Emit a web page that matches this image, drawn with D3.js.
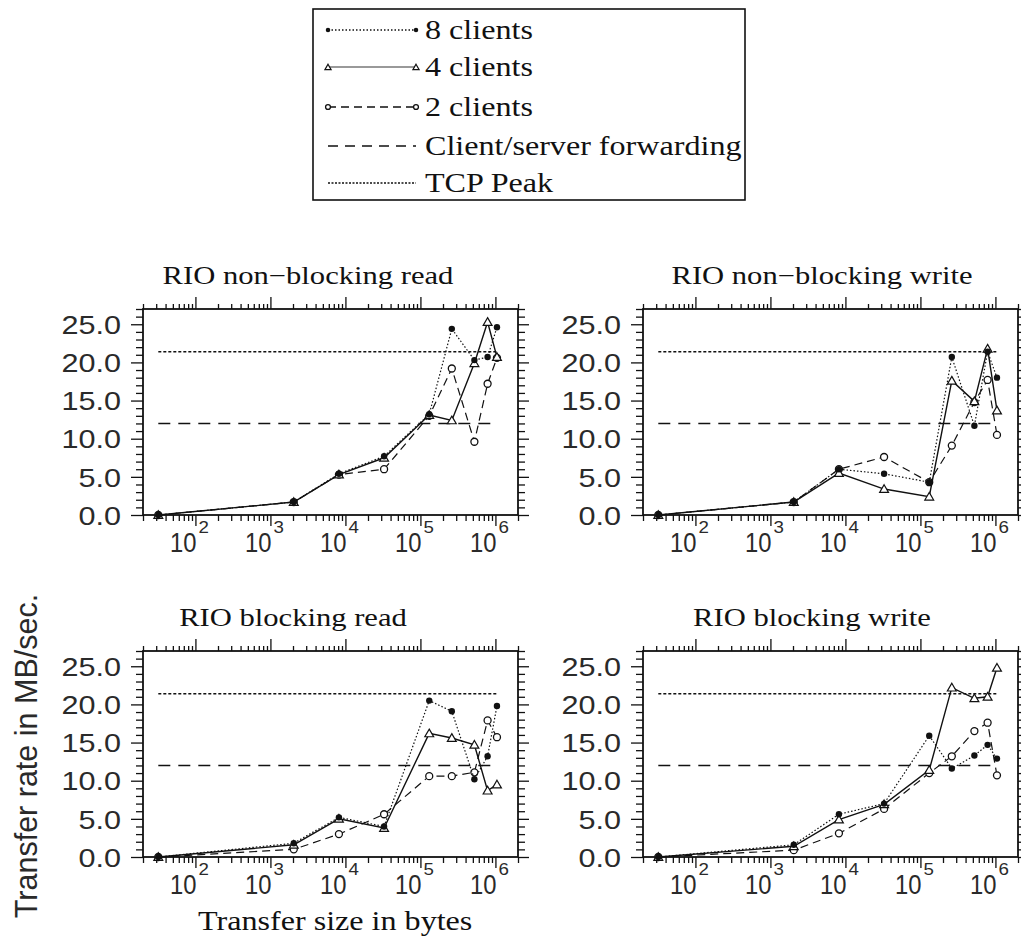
<!DOCTYPE html>
<html>
<head>
<meta charset="utf-8">
<script src="https://cdn.jsdelivr.net/npm/d3@7"></script>
<style>
  body { margin: 0; background: #fff; }
  svg { display: block; }
</style>
</head>
<body>
<svg id="chart"></svg>
<script>
// transfer sizes in bytes (x axis, log)
var sizes = [32, 2048, 8192, 32768, 131072, 262144, 524288, 786432, 1048576];

var titles = ["RIO non\u2212blocking read", "RIO non\u2212blocking write",
              "RIO blocking read", "RIO blocking write"];

// MB/sec, one array per panel and client count
var nbRead8  = [0, 1.7, 5.4, 7.7, 13.2, 24.4, 20.3, 20.7, 24.6];
var nbRead4  = [0, 1.7, 5.3, 7.5, 13.1, 12.4, 19.9, 25.3, 20.7];
var nbRead2  = [0, 1.7, 5.3, 6.0, 13.0, 19.2, 9.6, 17.2, 20.6];

var nbWrite8 = [0, 1.7, 6.0, 5.4, 4.3, 20.7, 11.7, 21.4, 18.0];
var nbWrite4 = [0, 1.7, 5.5, 3.4, 2.4, 17.6, 14.9, 21.8, 13.7];
var nbWrite2 = [0, 1.7, 6.0, 7.6, 4.3, 9.1, 14.8, 17.7, 10.5];

var bRead8   = [0, 1.8, 5.2, 4.0, 20.5, 19.1, 10.2, 13.2, 19.8];
var bRead4   = [0, 1.6, 5.0, 3.8, 16.2, 15.6, 14.7, 8.7, 9.5];
var bRead2   = [0, 1.0, 3.0, 5.6, 10.6, 10.6, 11.1, 17.9, 15.7];

var bWrite8  = [0, 1.6, 5.6, 7.0, 15.9, 11.6, 13.3, 14.7, 12.9];
var bWrite4  = [0, 1.4, 4.9, 6.9, 11.4, 22.2, 20.8, 21.0, 24.8];
var bWrite2  = [0, 0.9, 3.1, 6.3, 11.0, 13.2, 16.5, 17.6, 10.7];

var tcpPeak = 21.4;     // TCP Peak
var csForward = 12.0;   // Client/server forwarding

var legendLabels = ["8 clients", "4 clients", "2 clients", "Client/server forwarding", "TCP Peak"];
var yTicks = [0, 5, 10, 15, 20, 25];
var xTicks = [1e2, 1e3, 1e4, 1e5, 1e6];

var W = 1021, H = 941;
var svg = d3.select("#chart").attr("width", W).attr("height", H);

var serif = "'Liberation Serif', 'Times New Roman', serif";
var sans = "'Liberation Sans', Arial, sans-serif";
var ink = "#111";

var pw = 375, ph = 206;
var panels = [
  { title: titles[0], s8: nbRead8,  s4: nbRead4,  s2: nbRead2,  left: 143, top: 309, tx: 308 },
  { title: titles[1], s8: nbWrite8, s4: nbWrite4, s2: nbWrite2, left: 643, top: 309, tx: 822 },
  { title: titles[2], s8: bRead8,   s4: bRead4,   s2: bRead2,   left: 143, top: 651, tx: 293 },
  { title: titles[3], s8: bWrite8,  s4: bWrite4,  s2: bWrite2,  left: 643, top: 651, tx: 812 }
];

// text helper with horizontal stretch (scanned original is wider than tall)
function label(parent, x, y, str, opts) {
  opts = opts || {};
  var t = parent.append("text")
    .attr("transform", "translate(" + x + "," + y + ") scale(" + (opts.sx || 1) + ",1)" + (opts.rot ? " rotate(" + opts.rot + ")" : ""))
    .attr("font-family", opts.font || serif)
    .attr("font-size", opts.size || 25)
    .attr("fill", opts.fill || ink)
    .attr("text-anchor", opts.anchor || "start")
    .text(str);
  if (opts.dy) t.attr("dy", opts.dy);
  return t;
}

var x = d3.scaleLog().domain([20, 2e6]).range([0, pw]);
var y = d3.scaleLinear().domain([0, 27]).range([ph, 0]);

var xMinor = [];
for (var k = 1; k <= 6; k++) {
  for (var m = 2; m <= 9; m++) {
    var v = m * Math.pow(10, k);
    if (v >= 20 && v <= 2e6) xMinor.push(v);
  }
}
var yMinor = d3.range(0, 28).filter(function (d) { return d % 5 !== 0; });

var styles = {
  s8: { dash: "1.5,2", width: 1.2 },
  s4: { dash: null, width: 1.4 },
  s2: { dash: "8,5", width: 1.2 }
};

function marker(g, kind, cx, cy, sc) {
  sc = sc || 1;
  if (kind === "s8") {
    g.append("circle").attr("cx", cx).attr("cy", cy).attr("r", 3.2 * sc).attr("fill", ink);
  } else if (kind === "s4") {
    g.append("path")
      .attr("d", d3.symbol().type(d3.symbolTriangle).size(34 * sc * sc)())
      .attr("transform", "translate(" + cx + "," + (cy + 0.8) + ")")
      .attr("fill", "#fff").attr("stroke", ink).attr("stroke-width", 1.2);
  } else {
    g.append("circle").attr("cx", cx).attr("cy", cy).attr("r", 3.5 * sc)
      .attr("fill", "#fff").attr("stroke", ink).attr("stroke-width", 1.3);
  }
}

panels.forEach(function (p) {
  var g = svg.append("g").attr("transform", "translate(" + p.left + "," + p.top + ")");

  // ticks on all four sides, outward
  function axisG(axis, tr) {
    var a = g.append("g").attr("transform", tr).call(axis);
    a.select(".domain").remove();
    a.selectAll("line").attr("stroke", ink).attr("stroke-width", 1.3);
    a.selectAll("text").remove();
  }
  axisG(d3.axisBottom(x).tickValues(xMinor).tickSize(6).tickFormat(""), "translate(0," + ph + ")");
  axisG(d3.axisBottom(x).tickValues(xTicks).tickSize(11).tickFormat(""), "translate(0," + ph + ")");
  axisG(d3.axisTop(x).tickValues(xMinor).tickSize(5).tickFormat(""), "translate(0,0)");
  axisG(d3.axisTop(x).tickValues(xTicks).tickSize(12).tickFormat(""), "translate(0,0)");
  axisG(d3.axisLeft(y).tickValues(yMinor).tickSize(7).tickFormat(""), "translate(0,0)");
  axisG(d3.axisLeft(y).tickValues(yTicks).tickSize(12).tickFormat(""), "translate(0,0)");
  axisG(d3.axisRight(y).tickValues(yMinor).tickSize(7).tickFormat(""), "translate(" + pw + ",0)");
  axisG(d3.axisRight(y).tickValues(yTicks).tickSize(11).tickFormat(""), "translate(" + pw + ",0)");

  g.append("rect").attr("width", pw).attr("height", ph)
    .attr("fill", "none").attr("stroke", ink).attr("stroke-width", 1.8);

  // y tick labels
  yTicks.forEach(function (t) {
    label(g, -22, y(t), d3.format(".1f")(t),
      { font: sans, size: 25.5, sx: 1.2, anchor: "end", dy: "0.38em", fill: "#2a2a2a" });
  });
  // x tick labels 10^k
  xTicks.forEach(function (t) {
    var e = Math.round(Math.log10(t));
    label(g, x(t) + 1, ph + 37, "10", { font: sans, size: 28, sx: 0.85, anchor: "end", fill: "#2a2a2a" });
    label(g, x(t) + 3, ph + 18, String(e), { font: sans, size: 17, sx: 1.1, fill: "#2a2a2a" });
  });

  // reference lines over the measured range
  var x0 = x(sizes[0]), x1 = x(sizes[sizes.length - 1]);
  g.append("line").attr("x1", x0).attr("x2", x1).attr("y1", y(tcpPeak)).attr("y2", y(tcpPeak))
    .attr("stroke", ink).attr("stroke-width", 1.6).attr("stroke-dasharray", "3,2");
  g.append("line").attr("x1", x0).attr("x2", x1).attr("y1", y(csForward)).attr("y2", y(csForward))
    .attr("stroke", ink).attr("stroke-width", 1.6).attr("stroke-dasharray", "12,8");

  var line = d3.line().x(function (d) { return x(d[0]); }).y(function (d) { return y(d[1]); });
  ["s2", "s4", "s8"].forEach(function (key) {
    var pts = sizes.map(function (s, i) { return [s, p[key][i]]; });
    g.append("path").datum(pts).attr("d", line).attr("fill", "none")
      .attr("stroke", ink).attr("stroke-width", styles[key].width)
      .attr("stroke-dasharray", styles[key].dash);
    pts.forEach(function (d) { marker(g, key, x(d[0]), y(d[1])); });
  });

  label(svg, p.tx, p.top - 25, p.title, { size: 25.5, sx: 1.2, anchor: "middle" });
});

// axis titles
label(svg, 198, 930, "Transfer size in bytes", { size: 27, sx: 1.19 });
label(svg, 37, 756, "Transfer rate in MB/sec.", { font: sans, size: 30.5, rot: -90, anchor: "middle", fill: "#2a2a2a" });

// legend
var lg = svg.append("g");
lg.append("rect").attr("x", 313).attr("y", 9).attr("width", 432).attr("height", 191)
  .attr("fill", "#fff").attr("stroke", ink).attr("stroke-width", 1.6);
var rowY = [30, 67, 107, 146, 183];
var keys = ["s8", "s4", "s2", "cs", "tcp"];
keys.forEach(function (key, i) {
  var yy = rowY[i];
  var ln = lg.append("line").attr("x1", 328).attr("x2", 416).attr("y1", yy).attr("y2", yy)
    .attr("stroke", ink).attr("stroke-width", 1.3);
  if (key === "s8") ln.attr("stroke-dasharray", "1.5,2");
  if (key === "s4") ln.attr("stroke", "#999").attr("stroke-width", 2.2);
  if (key === "s2") ln.attr("stroke-dasharray", "8,5");
  if (key === "cs") ln.attr("stroke-dasharray", "10,7");
  if (key === "tcp") ln.attr("stroke-dasharray", "2,1.5");
  if (key === "s8" || key === "s4" || key === "s2") {
    marker(lg, key, 328, yy, 0.7);
    marker(lg, key, 416, yy, 0.7);
  }
  label(lg, 425, yy + 9, legendLabels[i], { size: 27, sx: 1.19 });
});
</script>
</body>
</html>
